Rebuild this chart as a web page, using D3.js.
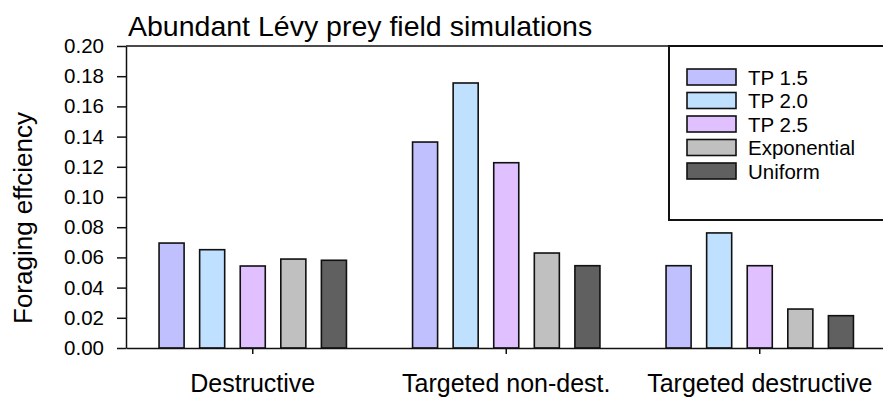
<!DOCTYPE html>
<html>
<head>
<meta charset="utf-8">
<script src="https://cdn.jsdelivr.net/npm/d3@7"></script>
<style>
  html, body { margin: 0; padding: 0; background: #fff; }
  svg { display: block; font-family: "Liberation Sans", Arial, sans-serif; }
</style>
</head>
<body>
<svg id="chart" width="883" height="398"></svg>
<script>
// ---- data ----
const categories = ["Destructive", "Targeted non-dest.", "Targeted destructive"];
const seriesNames = ["TP 1.5", "TP 2.0", "TP 2.5", "Exponential", "Uniform"];
const tp15 = [0.0695, 0.1364, 0.0545];
const tp20 = [0.0651, 0.1755, 0.0762];
const tp25 = [0.0543, 0.1227, 0.0545];
const exponential = [0.0589, 0.0629, 0.0258];
const uniform = [0.0581, 0.0545, 0.0214];
const yTicks = [0, 0.02, 0.04, 0.06, 0.08, 0.10, 0.12, 0.14, 0.16, 0.18, 0.20];
const titleText = "Abundant Lévy prey field simulations";
const yLabelText = "Foraging effciency";

// ---- styles ----
const colors = ["#c0c0ff", "#c0e0ff", "#e0c0ff", "#c0c0c0", "#606060"];
const seriesValues = [tp15, tp20, tp25, exponential, uniform];

const svg = d3.select("#chart");
const pLeft = 126, pRight = 886.5, pTop = 46, pBottom = 348;

const x0 = d3.scaleBand().domain(categories).range([pLeft, pRight]).padding(0);
const bw = x0.bandwidth();
const x1 = d3.scaleBand().domain(seriesNames)
  .range([bw * 0.1, bw * 0.9]).paddingInner(0.383).paddingOuter(0.19);
const y = d3.scaleLinear().domain([0, 0.2]).range([pBottom, pTop]);

// frame top & right
svg.append("path")
  .attr("d", `M${pLeft},${pTop}H${pRight}V${pBottom}`)
  .attr("fill", "none").attr("stroke", "#111").attr("stroke-width", 1.5);

// bars
const rows = [];
seriesValues.forEach((vals, si) => {
  vals.forEach((v, ci) => rows.push({ s: seriesNames[si], c: categories[ci], v, si }));
});
svg.append("g").selectAll("rect").data(rows).join("rect")
  .attr("x", d => x0(d.c) + x1(d.s))
  .attr("y", d => y(d.v))
  .attr("width", x1.bandwidth())
  .attr("height", d => y(0) - y(d.v))
  .attr("fill", d => colors[d.si])
  .attr("stroke", "#111")
  .attr("stroke-width", 1.6);

// y axis
const yAxis = svg.append("g").attr("transform", `translate(${pLeft},0)`)
  .call(d3.axisLeft(y).tickValues(yTicks).tickFormat(d3.format(".2f"))
    .tickSize(9).tickSizeOuter(0).tickPadding(13));
yAxis.selectAll("text").attr("font-size", 20.5).attr("fill", "#000")
  .attr("font-family", '"Liberation Sans", Arial, sans-serif');
yAxis.selectAll("line,path").attr("stroke", "#111").attr("stroke-width", 1.5);

// x axis
const xAxis = svg.append("g").attr("transform", `translate(0,${pBottom})`)
  .call(d3.axisBottom(x0).tickSize(6).tickSizeOuter(0).tickPadding(20));
xAxis.selectAll("text").attr("font-size", 25).attr("fill", "#000")
  .attr("font-family", '"Liberation Sans", Arial, sans-serif');
xAxis.selectAll("line,path").attr("stroke", "#111").attr("stroke-width", 1.5);

// title
svg.append("text").attr("x", 128).attr("y", 36)
  .attr("font-size", 28.5).attr("fill", "#000").text(titleText);

// y label
svg.append("text")
  .attr("transform", `translate(32,${(pTop + pBottom) / 2 + 21}) rotate(-90)`)
  .attr("text-anchor", "middle").attr("font-size", 26).attr("fill", "#000")
  .text(yLabelText);

// legend
const lg = svg.append("g");
lg.append("rect").attr("x", 669).attr("y", pTop).attr("width", 230).attr("height", 220 - pTop)
  .attr("fill", "#fff").attr("stroke", "#111").attr("stroke-width", 2);
seriesNames.forEach((name, i) => {
  const cy = 77 + i * 23.5;
  lg.append("rect").attr("x", 687).attr("y", cy - 8).attr("width", 49).attr("height", 16)
    .attr("fill", colors[i]).attr("stroke", "#111").attr("stroke-width", 1.6);
  lg.append("text").attr("x", 748).attr("y", cy + 7.5)
    .attr("font-size", 20.5).attr("fill", "#000").text(name);
});
</script>
</body>
</html>
